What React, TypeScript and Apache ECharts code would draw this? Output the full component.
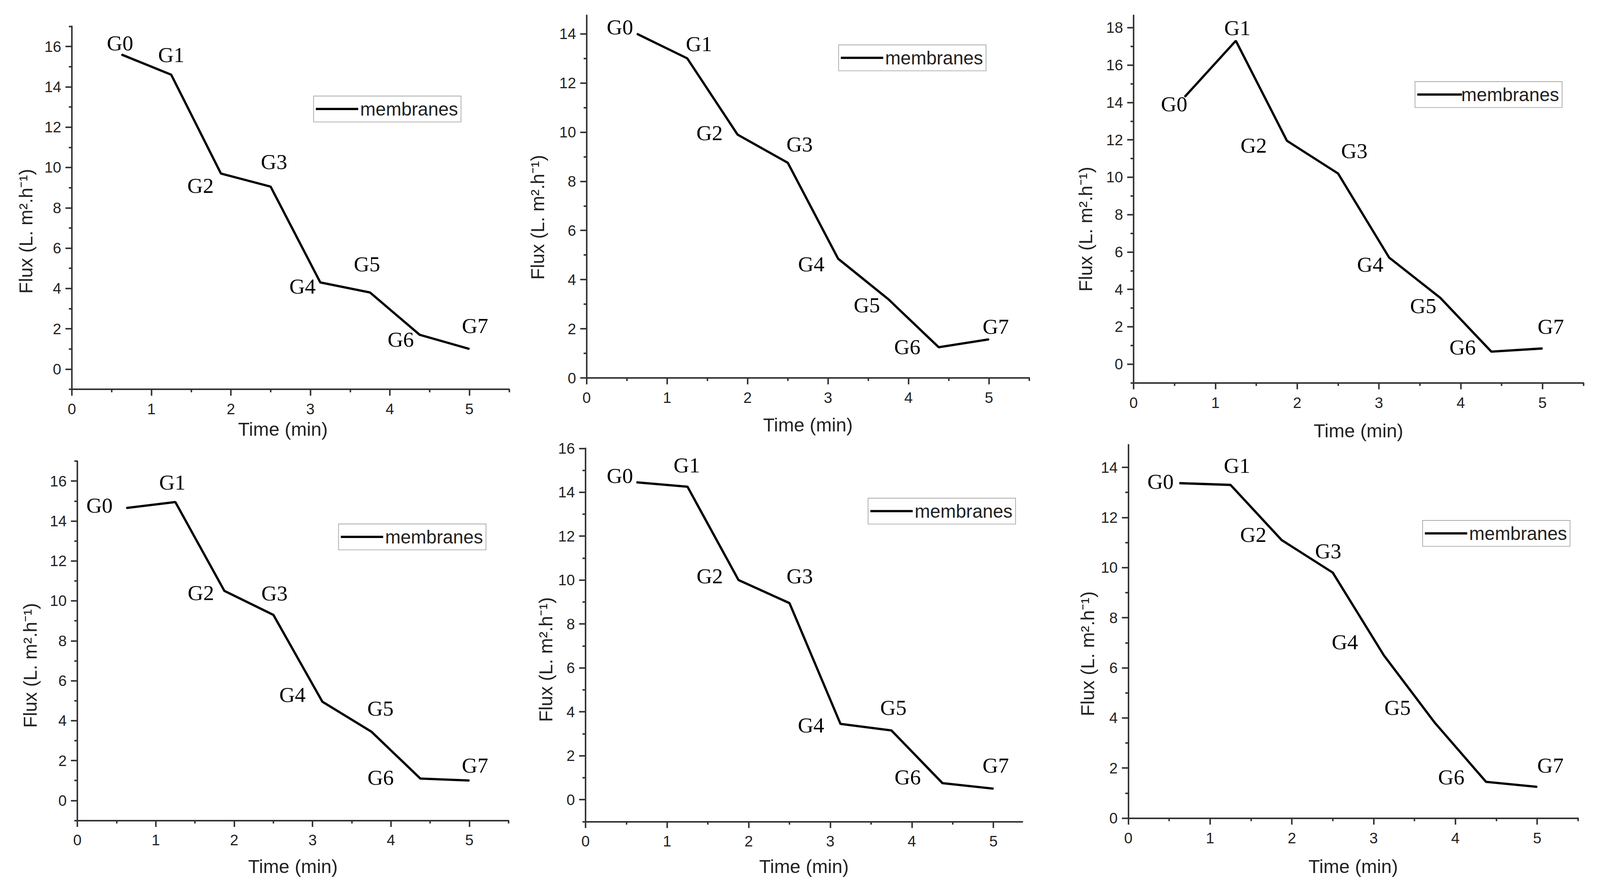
import { useEffect, useRef } from "react";
import * as echarts from "echarts";

const TIME_MIN = [0.625, 1.25, 1.875, 2.5, 3.125, 3.75, 4.375, 5];
const POINT_NAMES = ["G0", "G1", "G2", "G3", "G4", "G5", "G6", "G7"];

const FLUX_A = [15.6, 14.6, 9.7, 9.05, 4.3, 3.8, 1.7, 1.0];
const FLUX_B = [14.0, 13.0, 9.9, 8.75, 4.85, 3.2, 1.25, 1.57];
const FLUX_C = [14.3, 17.3, 11.95, 10.2, 5.7, 3.55, 0.67, 0.84];
const FLUX_D = [14.65, 14.95, 10.5, 9.3, 4.95, 3.45, 1.1, 1.0];
const FLUX_E = [14.45, 14.25, 10.0, 8.95, 3.45, 3.15, 0.75, 0.5];
const FLUX_F = [13.37, 13.3, 11.1, 9.8, 6.5, 3.8, 1.45, 1.25];

const X_TICKS = [0, 1, 2, 3, 4, 5];
const X_MINOR = [0.5, 1.5, 2.5, 3.5, 4.5, 5.5];
const X_MINOR_SHORT = [0.5, 1.5, 2.5, 3.5, 4.5];
const Y_TICKS_14 = [0, 2, 4, 6, 8, 10, 12, 14];
const Y_TICKS_16 = [0, 2, 4, 6, 8, 10, 12, 14, 16];
const Y_TICKS_18 = [0, 2, 4, 6, 8, 10, 12, 14, 16, 18];
const Y_MINOR_13 = [1, 3, 5, 7, 9, 11, 13];
const Y_MINOR_15 = [-1, 1, 3, 5, 7, 9, 11, 13, 15];
const Y_MINOR_17 = [-1, 1, 3, 5, 7, 9, 11, 13, 15, 17];

const SERIES_NAME = "membranes";
const X_NAME = "Time (min)";
const Y_NAME = "Flux (L. m².h⁻¹)";

const SANS = "'Liberation Sans', Arial, sans-serif";
const SERIF = "'Liberation Serif', 'Times New Roman', serif";
const AXIS_COLOR = "#333";
const TEXT_COLOR = "#222";

// design size; everything below is laid out in these pixels and scaled to the page
const BASE_W = 4230;
const BASE_H = 2277;

const PANELS = [
  {
    flux: FLUX_A,
    grid: [190, 67.5, 1156, 929.5],
    xMax: 5.5, xMinor: X_MINOR,
    yMin: -1, yMax: 17, yTicks: Y_TICKS_16, yMinor: Y_MINOR_17,
    legend: [829, 246], legendLine: 112, legendGap: 0,
    yNameGap: 97, yNameShift: 60, xNameGap: 78, xNameShift: 20,
    offsets: [[-4, -29], [0, -51], [-54, 31], [9, -64], [-47, 10], [-8, -73], [-50, 12], [15, -59]],
  },
  {
    flux: FLUX_B,
    grid: [1551, 39.3, 1170, 928.7],
    xMax: 5.5, xMinor: X_MINOR,
    yMin: 0, yMax: 14.75, yTicks: Y_TICKS_14, yMinor: Y_MINOR_13,
    legend: [2217, 115], legendLine: 112, legendGap: 0,
    yNameGap: 105, yNameShift: 53, xNameGap: 96, xNameShift: 0,
    offsets: [[-45, -17], [31, -37], [-74, -4], [31, -48], [-71, 14], [-57, 15], [-83, -1], [18, -33]],
  },
  {
    flux: FLUX_C,
    grid: [2997, 39.3, 1189, 941.3],
    xMax: 5.5, xMinor: X_MINOR,
    yMin: -1, yMax: 18.66, yTicks: Y_TICKS_18, yMinor: Y_MINOR_17,
    legend: [3741, 209], legendLine: 118, legendGap: -7,
    yNameGap: 102, yNameShift: 77, xNameGap: 98, xNameShift: 0,
    offsets: [[-28, 18], [4, -33], [-88, 12], [43, -58], [-50, 18], [-45, 21], [-76, -11], [22, -56]],
  },
  {
    flux: FLUX_D,
    grid: [204.5, 1181, 1140, 920.5],
    xMax: 5.5, xMinor: X_MINOR,
    yMin: -1, yMax: 17, yTicks: Y_TICKS_16, yMinor: Y_MINOR_17,
    legend: [895, 1342], legendLine: 112, legendGap: 0,
    yNameGap: 100, yNameShift: 63, xNameGap: 93, xNameShift: 0,
    offsets: [[-71, -7], [-8, -50], [-62, 5], [3, -55], [-79, -18], [24, -59], [-105, -3], [15, -39]],
  },
  {
    flux: FLUX_E,
    grid: [1548, 1148.3, 1155, 956],
    xMax: 5.355, xMinor: X_MINOR_SHORT,
    yMin: -1, yMax: 16, yTicks: Y_TICKS_16, yMinor: Y_MINOR_15,
    legend: [2295, 1276], legendLine: 112, legendGap: 0,
    yNameGap: 80, yNameShift: 63, xNameGap: 91, xNameShift: 0,
    offsets: [[-44, -17], [-2, -55], [-76, -10], [27, -69], [-78, 3], [5, -58], [-92, -15], [6, -59]],
  },
  {
    flux: FLUX_F,
    grid: [2983, 1139.3, 1189, 956.3],
    xMax: 5.5, xMinor: X_MINOR,
    yMin: 0, yMax: 14.9, yTicks: Y_TICKS_14, yMinor: Y_MINOR_13,
    legend: [3761, 1333], legendLine: 112, legendGap: 0,
    yNameGap: 83, yNameShift: 57, xNameGap: 99, xNameShift: 0,
    offsets: [[-50, -4], [17, -49], [-75, -14], [-12, -55], [-103, -34], [-99, -39], [-92, -12], [35, -55]],
  },
];

function buildOption(sx: number, sy: number) {
  const s = Math.min(sx, sy);
  const lineStyle = { color: AXIS_COLOR, width: 4 * s };
  const grid: any[] = [];
  const xAxis: any[] = [];
  const yAxis: any[] = [];
  const legend: any[] = [];
  const series: any[] = [];

  PANELS.forEach((p, i) => {
    grid.push({
      left: p.grid[0] * sx,
      top: p.grid[1] * sy,
      width: p.grid[2] * sx,
      height: p.grid[3] * sy,
      containLabel: false,
      outerBoundsMode: "none",
    });

    xAxis.push({
      type: "value",
      gridIndex: i,
      position: "bottom",
      min: 0,
      max: p.xMax,
      name: X_NAME,
      nameLocation: "middle",
      nameGap: p.xNameGap * sy,
      nameTextStyle: {
        fontFamily: SANS,
        fontSize: 50 * s,
        color: TEXT_COLOR,
        padding: [0, p.xNameShift * 2 * sx, 0, 0],
      },
      axisLine: { show: true, onZero: false, lineStyle },
      axisTick: { show: true, length: 17 * s, customValues: X_TICKS, lineStyle },
      axisLabel: {
        customValues: X_TICKS,
        margin: 32 * s,
        fontFamily: SANS,
        fontSize: 40 * s,
        color: TEXT_COLOR,
      },
      splitLine: { show: false },
    });
    xAxis.push({
      type: "value",
      gridIndex: i,
      position: "bottom",
      min: 0,
      max: p.xMax,
      axisLine: { show: false, onZero: false },
      axisTick: { show: true, length: 8 * s, customValues: p.xMinor, lineStyle },
      axisLabel: { show: false },
      splitLine: { show: false },
    });

    yAxis.push({
      type: "value",
      gridIndex: i,
      position: "left",
      min: p.yMin,
      max: p.yMax,
      name: Y_NAME,
      nameLocation: "middle",
      nameGap: p.yNameGap * sx,
      nameTextStyle: {
        fontFamily: SANS,
        fontSize: 50 * s,
        color: TEXT_COLOR,
        padding: [0, p.yNameShift * 2 * sy, 0, 0],
      },
      axisLine: { show: true, onZero: false, lineStyle },
      axisTick: { show: true, length: 17 * s, customValues: p.yTicks, lineStyle },
      axisLabel: {
        customValues: p.yTicks,
        margin: 28 * s,
        fontFamily: SANS,
        fontSize: 40 * s,
        color: TEXT_COLOR,
      },
      splitLine: { show: false },
    });
    yAxis.push({
      type: "value",
      gridIndex: i,
      position: "left",
      min: p.yMin,
      max: p.yMax,
      axisLine: { show: false, onZero: false },
      axisTick: { show: true, length: 8 * s, customValues: p.yMinor, lineStyle },
      axisLabel: { show: false },
      splitLine: { show: false },
    });

    legend.push({
      left: p.legend[0] * sx,
      top: p.legend[1] * sy,
      orient: "horizontal",
      data: [{ name: SERIES_NAME, icon: "rect" }],
      itemWidth: p.legendLine * s,
      itemHeight: 6 * s,
      padding: [10 * s, 8 * s, 10 * s, 6 * s],
      borderColor: "#aaa",
      borderWidth: 2 * s,
      selectedMode: false,
      textStyle: {
        fontFamily: SANS,
        fontSize: 49 * s,
        color: TEXT_COLOR,
        padding: [0, 0, 0, p.legendGap * s],
      },
    });

    series.push({
      name: SERIES_NAME,
      type: "line",
      xAxisIndex: i * 2,
      yAxisIndex: i * 2,
      symbol: "circle",
      symbolSize: 2 * s,
      showSymbol: true,
      itemStyle: { color: "#000" },
      lineStyle: { color: "#000", width: 6 * s },
      label: {
        show: true,
        position: "inside",
        fontFamily: SERIF,
        fontSize: 57 * s,
        color: "#000",
        formatter: (params: any) => POINT_NAMES[params.dataIndex],
      },
      emphasis: { disabled: true },
      data: TIME_MIN.map((t, k) => ({
        value: [t, p.flux[k]],
        label: { offset: [p.offsets[k][0] * sx, p.offsets[k][1] * sy] },
      })),
    });
  });

  return {
    animation: false,
    backgroundColor: "#fff",
    grid,
    xAxis,
    yAxis,
    legend,
    series,
  };
}

export default function App() {
  const chartRef = useRef<HTMLDivElement>(null);

  useEffect(() => {
    document.body.style.margin = "0";
    document.body.style.overflow = "hidden";
    let chart: echarts.ECharts | null = null;

    if (chartRef.current) {
      const w = chartRef.current.clientWidth || BASE_W;
      const h = chartRef.current.clientHeight || BASE_H;
      chart = echarts.init(chartRef.current, null, { renderer: "svg" });
      chart.setOption(buildOption(w / BASE_W, h / BASE_H));
    }

    return () => {
      if (chart) {
        chart.dispose();
      }
    };
  }, []);

  return <div ref={chartRef} style={{ width: "100vw", height: "100vh" }} />;
}
